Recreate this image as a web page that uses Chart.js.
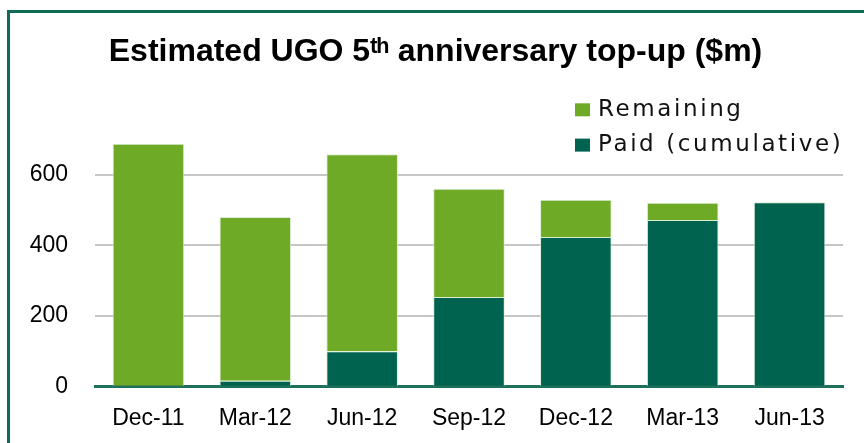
<!DOCTYPE html>
<html>
<head>
<meta charset="utf-8">
<script src="https://cdn.jsdelivr.net/npm/chart.js@4.4.0/dist/chart.umd.min.js"></script>
<style>
  html, body { margin: 0; padding: 0; background: #fff; }
  #wrap { position: relative; width: 864px; height: 443px; overflow: hidden; }
  #frame { position: absolute; left: 7px; top: 10px; width: 900px; height: 500px;
           border-top: 3px solid #0f6b56; border-left: 3px solid #0f6b56; }
  canvas { position: absolute; left: 0; top: 0; }
</style>
</head>
<body>
<div id="wrap">
  <div id="frame"></div>
  <canvas id="chartTopUp" width="864" height="443"></canvas>
</div>
<script>
const labels = ['Dec-11', 'Mar-12', 'Jun-12', 'Sep-12', 'Dec-12', 'Mar-13', 'Jun-13'];
const paid = [0, 17, 100, 254, 424, 472, 522];
const remaining = [688, 463, 558, 306, 105, 49, 0];
const yTicks = [0, 200, 400, 600];

const lightGreen = '#6faa26';
const darkGreen = '#00634f';

// legend drawn by hand: two rows, top right, overlapping the plot
const sideLegend = {
    id: 'sideLegend',
    afterDraw(chart) {
        const ctx = chart.ctx;
        const area = chart.chartArea;
        const x = area.right - 268;
        const items = chart.data.datasets.slice().reverse();
        ctx.save();
        ctx.font = '23px "DejaVu Sans", sans-serif';
        ctx.letterSpacing = '2.6px';
        ctx.textBaseline = 'alphabetic';
        ctx.textAlign = 'left';
        items.forEach((ds, i) => {
            const base = area.top - 23.6 + i * 35.3;
            ctx.fillStyle = ds.backgroundColor;
            ctx.fillRect(x, base - 12.5, 15, 13);
            ctx.fillStyle = '#111';
            ctx.fillText(ds.label, x + 23, base);
        });
        ctx.restore();
    }
};

const ctx = document.getElementById('chartTopUp').getContext('2d');
const chart = new Chart(ctx, {
    type: 'bar',
    data: {
        labels: labels,
        datasets: [
            {
                label: 'Paid (cumulative)',
                data: paid,
                backgroundColor: darkGreen,
                borderColor: 'rgba(215,235,205,0.9)',
                borderWidth: 1,
                barPercentage: 0.67,
                categoryPercentage: 1
            },
            {
                label: 'Remaining',
                data: remaining,
                backgroundColor: lightGreen,
                borderColor: 'rgba(215,235,205,0.9)',
                borderWidth: 1,
                barPercentage: 0.67,
                categoryPercentage: 1
            }
        ]
    },
    options: {
        responsive: false,
        animation: false,
        layout: { padding: { left: 28, right: 21, top: 0, bottom: 0 } },
        plugins: {
            legend: { display: false },
            tooltip: { enabled: false },
            title: {
                display: true,
                text: 'Estimated UGO 5ᵗʰ anniversary top-up ($m)',
                color: '#000',
                font: { family: '"Liberation Sans", Arial, sans-serif', size: 32, weight: 'bold' },
                padding: { top: 33, bottom: 68 }
            }
        },
        scales: {
            x: {
                stacked: true,
                z: 1,
                afterFit: axis => { axis.height = 56.3; },
                grid: { display: false, drawTicks: false },
                border: { display: true, color: '#1e6f5c', width: 3 },
                ticks: {
                    color: '#000',
                    padding: 18.5,
                    font: { family: '"Liberation Sans", Arial, sans-serif', size: 23 }
                }
            },
            y: {
                stacked: true,
                min: 0,
                max: 700,
                afterBuildTicks: axis => {
                    axis.ticks = yTicks.map(v => ({ value: v }));
                },
                afterFit: axis => { axis.width = 67; },
                grid: {
                    drawTicks: false,
                    lineWidth: 2,
                    color: c => c.tick && c.tick.value === 0 ? 'rgba(0,0,0,0)' : '#c6c6c6'
                },
                border: { display: false },
                ticks: {
                    color: '#000',
                    padding: 27,
                    font: { family: '"Liberation Sans", Arial, sans-serif', size: 23 }
                }
            }
        }
    },
    plugins: [sideLegend]
});
</script>
</body>
</html>
